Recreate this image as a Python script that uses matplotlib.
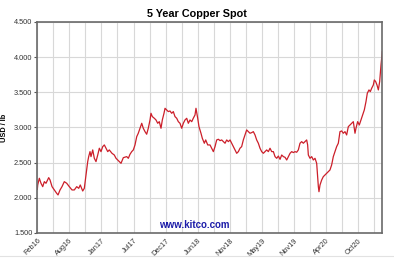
import numpy as np
import matplotlib
matplotlib.use('Agg')
import matplotlib.pyplot as plt
from matplotlib.lines import Line2D

plt.rcParams['font.family'] = ['Liberation Sans', 'DejaVu Sans']

# Copper spot price, USD/lb; x = months since start of chart (Feb 2016)
months = [
    0.00, 0.07, 0.35, 0.64, 0.94, 1.22, 1.51, 1.98, 2.21, 2.56, 2.95,
    3.37, 3.60, 3.95, 4.29, 4.69, 5.11, 5.56, 6.03, 6.43, 6.85,
    7.20, 7.47, 7.89, 8.17, 8.46, 8.76, 8.93, 9.16, 9.33, 9.63,
    9.91, 10.20, 10.50, 10.78, 11.07, 11.37, 11.65, 11.94, 12.24, 12.51,
    12.98, 13.38, 13.68, 14.25, 14.55, 14.95,
    15.54, 15.82, 16.11, 16.41, 16.69, 16.98, 17.28, 17.55, 17.85, 18.15,
    18.42, 18.72, 19.01, 19.29, 19.59, 19.76, 19.99, 20.34, 20.63, 20.93,
    21.20, 21.50, 21.73, 22.02, 22.20, 22.49, 22.77, 23.06, 23.36, 23.64,
    23.93, 24.23, 24.51, 24.80, 25.10, 25.38, 25.67, 25.97, 26.25, 26.54,
    26.84, 27.11, 27.41, 27.58, 27.88, 28.10, 28.45, 28.68, 29.03, 29.27,
    29.62,
    30.02, 30.31, 30.60, 30.89, 31.18, 31.47, 31.76, 32.05, 32.34, 32.63,
    32.92, 33.21, 33.50, 33.79, 34.08, 34.37, 34.66, 34.95, 35.23, 35.52,
    35.81, 36.10, 36.39, 36.68, 36.97, 37.26, 37.55, 37.84, 38.13, 38.42,
    38.71, 39.00, 39.29, 39.58, 39.87, 40.16, 40.45, 40.74, 41.03, 41.32,
    41.61, 41.90, 42.19, 42.48, 42.77, 43.06, 43.35, 43.64, 43.93, 44.22,
    44.51,
    44.79, 45.08, 45.37, 45.66, 45.95, 46.24, 46.53, 46.82, 46.99, 47.11,
    47.40, 47.69, 47.98, 48.27, 48.56, 48.73, 48.85, 48.96, 49.14, 49.43,
    49.71, 50.00, 50.29, 50.58, 50.87, 51.16, 51.45, 51.74, 52.03, 52.32,
    52.61, 52.90, 53.19, 53.48, 53.77, 54.06, 54.35, 54.64, 54.93, 55.22,
    55.39, 55.68, 55.97, 56.26, 56.55, 56.84, 57.13, 57.36, 57.65, 57.88,
    58.12, 58.41, 58.58, 58.81, 59.04, 59.28, 59.51, 59.74, 59.97,
]
price = [
    2.120, 2.183, 2.278, 2.207, 2.159, 2.230, 2.207, 2.287, 2.254, 2.159, 2.112,
    2.064, 2.041, 2.112, 2.159, 2.230, 2.207, 2.159, 2.112, 2.112, 2.159,
    2.135, 2.183, 2.097, 2.135, 2.325, 2.515, 2.586, 2.657, 2.586, 2.681,
    2.562, 2.515, 2.609, 2.705, 2.657, 2.728, 2.752, 2.705, 2.657, 2.681,
    2.633, 2.609, 2.562, 2.515, 2.491, 2.571,
    2.586, 2.562, 2.619, 2.657, 2.681, 2.752, 2.870, 2.918, 2.989, 3.060,
    2.989, 2.941, 2.904, 2.989, 3.107, 3.202, 3.155, 3.131, 3.107, 3.060,
    3.083, 2.989, 3.107, 3.202, 3.273, 3.250, 3.226, 3.235, 3.202, 3.226,
    3.155, 3.131, 3.083, 3.060, 2.989, 3.060, 3.107, 3.131, 3.060, 3.107,
    3.083, 3.131, 3.178, 3.273, 3.131, 3.012, 2.918, 2.847, 2.776, 2.823,
    2.752,
    2.752, 2.705, 2.657, 2.728, 2.823, 2.833, 2.813, 2.823, 2.799, 2.776,
    2.823, 2.799, 2.823, 2.776, 2.728, 2.681, 2.633, 2.657, 2.705, 2.728,
    2.823, 2.894, 2.965, 2.941, 2.918, 2.927, 2.941, 2.894, 2.823, 2.776,
    2.705, 2.657, 2.633, 2.657, 2.681, 2.657, 2.705, 2.657, 2.657, 2.586,
    2.562, 2.594, 2.547, 2.609, 2.586, 2.576, 2.538, 2.586, 2.633, 2.657,
    2.643,
    2.657, 2.648, 2.681, 2.776, 2.799, 2.776, 2.799, 2.823, 2.752, 2.609,
    2.562, 2.586, 2.538, 2.562, 2.491, 2.301, 2.159, 2.087, 2.183, 2.254,
    2.301, 2.325, 2.349, 2.372, 2.396, 2.467, 2.586, 2.657, 2.728, 2.776,
    2.941, 2.951, 2.918, 2.941, 2.894, 3.012, 3.036, 3.060, 3.083, 2.918,
    2.989, 3.083, 3.036, 3.107, 3.178, 3.250, 3.368, 3.487, 3.534, 3.510,
    3.558, 3.605, 3.676, 3.653, 3.605, 3.534, 3.653, 3.890, 4.079,
]

tick_labels = ['Feb16', 'Aug16', 'Jan17', 'Jul17', 'Dec17', 'Jun18',
               'Nov18', 'May19', 'Nov19', 'Apr20', 'Oct20']
y_ticks = [1.5, 2.0, 2.5, 3.0, 3.5, 4.0, 4.5]
grid_step = 60 / 21.53   # months between vertical grid lines
x_span = 60

fig = plt.figure(figsize=(3.94, 2.59), dpi=100)
ax = fig.add_axes([0.0947, 0.1004, 0.8761, 0.8147])

ax.plot(months, price, color='#cc1f2a', lw=0.9)

ax.set_xlim(0, x_span)
ax.set_ylim(1.5, 4.5)
grid_pos = np.arange(0, x_span, grid_step)
ax.set_xticks(grid_pos[::2])
ax.set_xticks(grid_pos, minor=True)
ax.set_xticklabels(tick_labels, rotation=45, ha='right', va='top',
                   rotation_mode='anchor', fontsize=5.3, color='#333333')
ax.set_yticks(y_ticks)
ax.set_yticklabels(['%.3f' % v for v in y_ticks], fontsize=5.3, color='#333333')
ax.tick_params(axis='x', which='both', length=0, pad=3)
ax.tick_params(axis='y', length=2.5, width=0.8, color='#555555', pad=1)
ax.grid(True, which='both', color='#d8d8d8', lw=0.8)
ax.set_axisbelow(True)
for s in ax.spines.values():
    s.set_color('#6a6a6a')
    s.set_linewidth(1.2)

ax.set_ylabel('USD / lb', fontsize=5.3, fontweight='bold', labelpad=4)
fig.text(0.5, 0.945, '5 Year Copper Spot', ha='center', va='center',
         fontsize=7.8, fontweight='bold')
ax.text(0.455, 0.04, 'www.kitco.com', transform=ax.transAxes, ha='center',
        va='center', fontsize=7, fontweight='bold', color='#1c1ca8')

fig.add_artist(Line2D([0, 1], [0.012, 0.012], transform=fig.transFigure,
                      color='#e2e2e2', lw=0.8))

fig.savefig('out.png', dpi=100)
